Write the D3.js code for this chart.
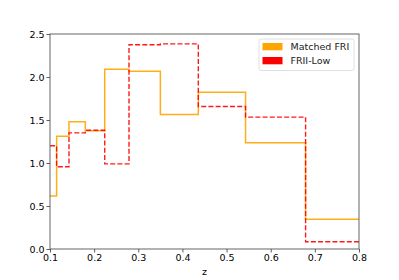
<!DOCTYPE html>
<html>
<head>
<meta charset="utf-8">
<script src="https://cdn.jsdelivr.net/npm/d3@7"></script>
<style>
  body { margin: 0; background: #fff; }
  svg { display: block; font-family: "DejaVu Sans", sans-serif; }
</style>
</head>
<body>
<div id="chart"></div>
<script>
// bin edges in z, shared by both histograms
const binEdges = [0.1, 0.115, 0.143, 0.18, 0.224, 0.279, 0.35, 0.436, 0.543, 0.679, 0.8]
// normalised counts per bin
const matchedFRI = [0.615, 1.31, 1.48, 1.374, 2.09, 2.067, 1.564, 1.823, 1.235, 0.345]
const friiLow = [1.20, 0.956, 1.35, 1.38, 0.99, 2.375, 2.385, 1.657, 1.533, 0.085]
const seriesNames = ['Matched FRI', 'FRII-Low']
const xTicks = [0.1, 0.2, 0.3, 0.4, 0.5, 0.6, 0.7, 0.8]
const yTicks = [0, 0.5, 1.0, 1.5, 2.0, 2.5]

const chart = { width: 399, height: 280 }
const margin = { left: 50, right: 40, top: 34, bottom: 31 }
const innerW = chart.width - margin.left - margin.right
const innerH = chart.height - margin.top - margin.bottom

const xScale = d3.scaleLinear().domain([0.1, 0.8]).range([0, innerW])
const yScale = d3.scaleLinear().domain([0, 2.5]).range([innerH, 0])

const svg = d3.select('#chart').append('svg')
  .attr('width', chart.width)
  .attr('height', chart.height)

svg.append('defs').append('clipPath')
  .attr('id', 'plot-clip')
  .append('rect')
  .attr('width', innerW).attr('height', innerH)

const base = svg.append('g')
  .attr('transform', `translate(${margin.left}, ${margin.top})`)

// step outline (outer edges sit on the spines, so they are left out)
function stepPoints(values) {
  const pts = []
  values.forEach((v, i) => {
    pts.push([binEdges[i], v])
    pts.push([binEdges[i + 1], v])
  })
  return pts
}

const line = d3.line()
  .x(d => xScale(d[0]))
  .y(d => yScale(d[1]))

const plot = base.append('g').attr('clip-path', 'url(#plot-clip)')

plot.append('path')
  .attr('d', line(stepPoints(matchedFRI)))
  .attr('fill', 'none')
  .attr('stroke', '#ffa500')
  .attr('stroke-width', 1.5)
  .attr('stroke-opacity', 0.9)

plot.append('path')
  .attr('d', line(stepPoints(friiLow)))
  .attr('fill', 'none')
  .attr('stroke', 'red')
  .attr('stroke-width', 1.4)
  .attr('stroke-dasharray', '5,2.2')
  .attr('stroke-opacity', 0.9)

// axes
const xAxis = d3.axisBottom(xScale).tickValues(xTicks).tickFormat(d3.format('.1f')).tickSizeOuter(0).tickSize(3.5).tickPadding(2)
const yAxis = d3.axisLeft(yScale).tickValues(yTicks).tickFormat(d3.format('.1f')).tickSizeOuter(0).tickSize(3.5).tickPadding(2)

base.append('g')
  .attr('transform', `translate(0, ${innerH})`)
  .call(xAxis)
base.append('g').call(yAxis)

base.selectAll('.tick text')
  .attr('font-size', '9.5px')
  .attr('font-family', '"DejaVu Sans", sans-serif')
  .attr('fill', '#000')
base.selectAll('.tick line').attr('stroke', '#333').attr('stroke-width', 0.8)
base.selectAll('.domain').remove()

// frame, drawn over the data like matplotlib spines
base.append('rect')
  .attr('x', 0).attr('y', 0)
  .attr('width', innerW).attr('height', innerH)
  .attr('fill', 'none')
  .attr('stroke', '#555')
  .attr('stroke-width', 0.9)

base.append('text')
  .text('z')
  .attr('x', innerW / 2)
  .attr('y', innerH + 26)
  .attr('text-anchor', 'middle')
  .attr('font-size', '9.5px')

// legend
const legend = base.append('g')
  .attr('transform', `translate(${innerW - 100}, 5)`)

legend.append('rect')
  .attr('x', 0).attr('y', 0)
  .attr('width', 95).attr('height', 31.5)
  .attr('rx', 2)
  .attr('fill', 'white')
  .attr('fill-opacity', 0.8)
  .attr('stroke', '#d8d8d8')
  .attr('stroke-width', 0.8)

const colors = ['#ffa500', 'red']
seriesNames.forEach((name, i) => {
  legend.append('rect')
    .attr('x', 3.5).attr('y', 4 + i * 14)
    .attr('width', 20).attr('height', 7.3)
    .attr('fill', colors[i])
  legend.append('text')
    .text(name)
    .attr('x', 31.5)
    .attr('y', 11.3 + i * 14)
    .attr('font-size', '9.5px')
    .attr('fill', '#222')
})
</script>
</body>
</html>
